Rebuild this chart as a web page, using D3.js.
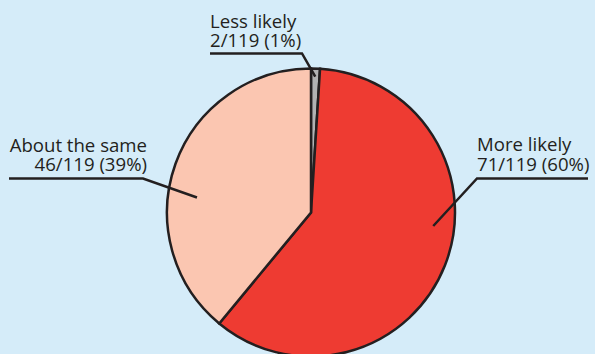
<!DOCTYPE html>
<html>
<head>
<meta charset="utf-8">
<script src="https://cdn.jsdelivr.net/npm/d3@7"></script>
<style>
  html, body { margin: 0; padding: 0; background: #d5ecf9; }
  svg { display: block; }
  text { font-family: "Open Sans", "Noto Sans", sans-serif; fill: #231f20; }
</style>
</head>
<body>
<svg id="chart" width="595" height="354"></svg>
<script>
// ---- data ----
const categories = ["Less likely", "More likely", "About the same"];
const counts = [2, 71, 46];
const total = 119;
const percents = [1, 60, 39];
const colors = ["#b2b2b3", "#ee3b32", "#fbc6b1"];

// ---- layout ----
const W = 595, H = 354;
const cx = 311, cy = 212.5, R = 144;
const ink = "#231f20";
const fontSize = 18.6, lineGap = 19.8;

const svg = d3.select("#chart");
svg.append("rect").attr("width", W).attr("height", H).attr("fill", "#d5ecf9");

const data = categories.map((c, i) => ({ cat: c, count: counts[i], pct: percents[i], color: colors[i] }));

const pie = d3.pie().value(d => d.pct).sort(null).startAngle(0).endAngle(2 * Math.PI);
const arcs = pie(data);
const arc = d3.arc().innerRadius(0).outerRadius(R);

const g = svg.append("g").attr("transform", `translate(${cx},${cy})`);
g.selectAll("path.slice").data(arcs).enter().append("path")
  .attr("class", "slice")
  .attr("d", arc)
  .attr("fill", d => d.data.color)
  .attr("stroke", ink)
  .attr("stroke-width", 2.5)
  .attr("stroke-linejoin", "miter");

// label annotations: text anchor point, leader line and end (end in polar coordinates)
const labelLayout = [
  { anchor: "start", tx: 210, ty: 27.5, lineX0: 210, lineX1: 302, lineY: 53.5, endAngleDeg: null, endR: 136 },
  { anchor: "start", tx: 477, ty: 151, lineX0: 477, lineX1: 588, lineY: 178.5, endAngleDeg: 96.3, endR: 123, elbowLeft: true },
  { anchor: "end", tx: 147, ty: 151.5, lineX0: 9, lineX1: 143, lineY: 178.5, endAngleDeg: 277.5, endR: 115 }
];

arcs.forEach((a, i) => {
  const L = labelLayout[i];
  const ang = L.endAngleDeg != null ? L.endAngleDeg * Math.PI / 180 : (a.startAngle + a.endAngle) / 2;
  const [ex, ey] = d3.pointRadial(ang, L.endR);
  const end = [cx + ex, cy + ey];
  const pts = L.elbowLeft
    ? [[L.lineX1, L.lineY], [L.lineX0, L.lineY], end]
    : [[L.lineX0, L.lineY], [L.lineX1, L.lineY], end];
  svg.append("path")
    .attr("d", d3.line()(pts))
    .attr("fill", "none")
    .attr("stroke", ink)
    .attr("stroke-width", 2.5);

  svg.append("text")
    .attr("text-anchor", L.anchor)
    .attr("font-size", fontSize)
    .attr("x", L.tx).attr("y", L.ty)
    .text(a.data.cat);
  svg.append("text")
    .attr("text-anchor", L.anchor)
    .attr("font-size", fontSize)
    .attr("x", L.tx).attr("y", L.ty + lineGap)
    .text(`${a.data.count}/${total} (${a.data.pct}%)`);
});
</script>
</body>
</html>
